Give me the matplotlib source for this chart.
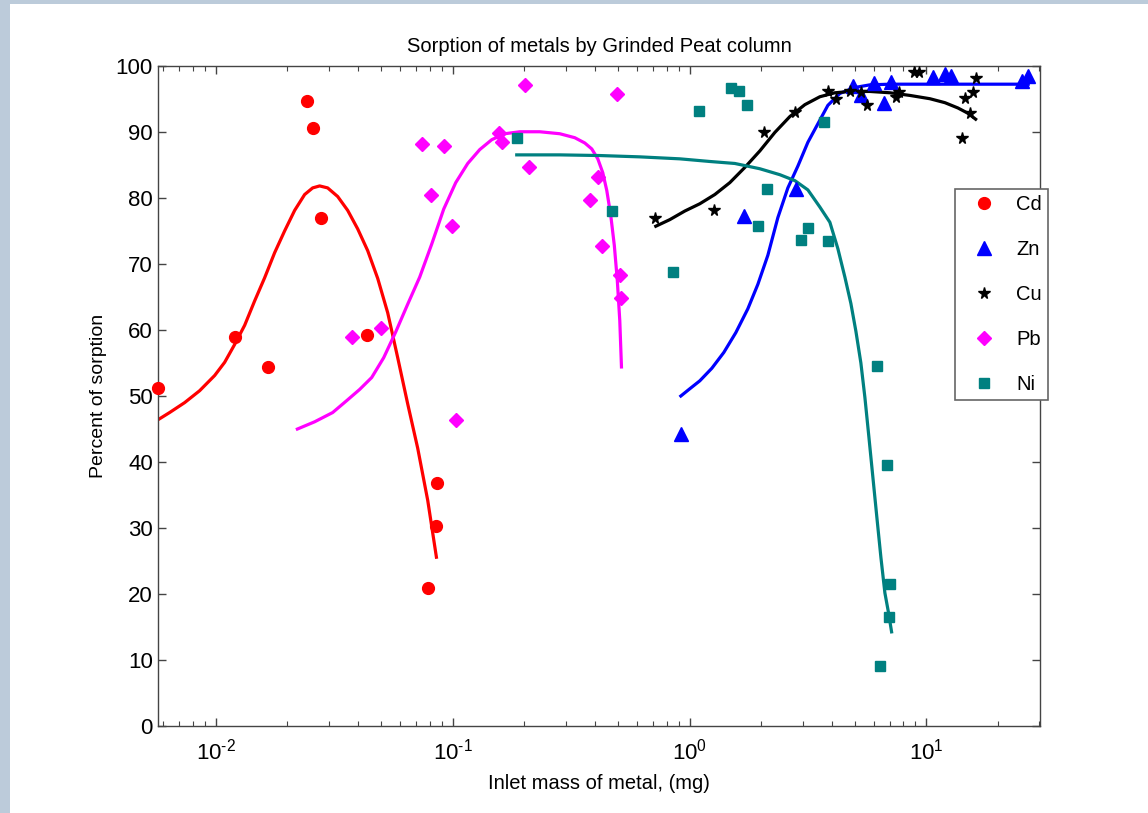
import matplotlib
matplotlib.use('Agg')
import matplotlib.pyplot as plt
import matplotlib.ticker as mticker
import numpy as np

plt.rcParams['font.family'] = ['Liberation Sans', 'DejaVu Sans']
plt.rcParams['mathtext.fontset'] = 'custom'
plt.rcParams['mathtext.rm'] = 'Liberation Sans'

# measured points (inlet mass mg, percent sorption)
cd_x = [0.00569, 0.01203, 0.01659, 0.02432, 0.02578, 0.02767, 0.04362, 0.0855, 0.0850, 0.0786]
cd_y = [51.2, 59.0, 54.4, 94.7, 90.6, 76.9, 59.2, 36.9, 30.3, 21.0]

zn_x = [0.919, 1.70, 2.81, 4.91, 5.29, 6.00, 6.62, 7.07, 10.69, 11.98, 12.67, 25.27, 26.93]
zn_y = [44.2, 77.3, 81.4, 97.0, 95.5, 97.4, 94.4, 97.6, 98.3, 98.8, 98.5, 97.7, 98.5]

cu_x = [0.713, 1.27, 2.065, 2.79, 3.83, 4.15, 4.76, 5.28, 5.60, 7.42, 7.66, 8.89, 9.33,
        16.2, 15.7, 14.5, 15.3, 14.2]
cu_y = [77.0, 78.1, 90.0, 93.0, 96.1, 95.0, 96.1, 96.0, 94.1, 95.2, 96.0, 99.1, 99.1,
        98.1, 96.0, 95.1, 92.9, 89.0]

pb_x = [0.0377, 0.0500, 0.0742, 0.0807, 0.0919, 0.0997, 0.1037, 0.2015, 0.4921, 0.1564,
        0.1622, 0.2100, 0.4112, 0.3792, 0.4275, 0.5076, 0.5128]
pb_y = [58.9, 60.3, 88.2, 80.4, 87.8, 75.7, 46.4, 97.1, 95.7, 89.8,
        88.4, 84.7, 83.1, 79.7, 72.7, 68.3, 64.9]

ni_x = [0.1863, 1.098, 1.495, 1.620, 1.741, 0.4697, 0.848, 2.128, 1.944, 3.161, 2.961,
        3.839, 3.69, 6.79, 7.02, 6.93, 6.37, 6.20]
ni_y = [89.1, 93.2, 96.6, 96.2, 94.1, 78.0, 68.8, 81.3, 75.8, 75.4, 73.6,
        73.5, 91.5, 39.6, 21.5, 16.5, 9.1, 54.5]

# fitted curves
cd_fit_x = [0.005689, 0.006374, 0.007376, 0.008533, 0.009874, 0.010884, 0.011995, 0.013221,
            0.014572, 0.016059, 0.017701, 0.019509, 0.021501, 0.023697, 0.025610, 0.027416,
            0.029639, 0.032666, 0.036006, 0.039683, 0.043743, 0.048217, 0.053137, 0.058563,
            0.064550, 0.071135, 0.078420, 0.085333]
cd_fit_y = [46.4, 47.5, 49.0, 50.8, 53.1, 55.1, 57.8, 60.7, 64.4, 67.9, 71.7, 75.0, 78.1,
            80.5, 81.5, 81.8, 81.5, 80.2, 78.1, 75.3, 72.0, 67.8, 62.6, 55.8, 48.8, 42.1,
            34.2, 25.6]

pb_fit_x = [0.022077, 0.026122, 0.031117, 0.035660, 0.040468, 0.045478, 0.051106, 0.057443,
            0.064550, 0.072536, 0.081527, 0.091622, 0.10297, 0.11570, 0.13004, 0.14616,
            0.16586, 0.19192, 0.23313, 0.28314, 0.32764, 0.36114, 0.38656, 0.40984,
            0.43020, 0.44729, 0.46503, 0.48128, 0.49545, 0.50757, 0.51592]
pb_fit_y = [45.0, 46.1, 47.5, 49.3, 51.0, 52.8, 55.8, 59.7, 63.9, 68.0, 73.0, 78.3, 82.3,
            85.2, 87.3, 88.8, 89.7, 90.0, 90.0, 89.7, 89.1, 88.3, 87.4, 85.9, 83.8, 81.1,
            77.3, 72.8, 67.5, 61.4, 54.4]

ni_fit_x = [0.18636, 0.28314, 0.41783, 0.61660, 0.9100, 1.2185, 1.5537, 1.9815, 2.4066,
            2.7861, 3.1608, 3.5523, 3.9147, 4.2316, 4.5300, 4.8027, 5.0422, 5.2924, 5.5026,
            5.7209, 5.9478, 6.1837, 6.4290, 6.6841, 6.9159, 7.1339]
ni_fit_y = [86.5, 86.5, 86.4, 86.2, 85.9, 85.5, 85.2, 84.4, 83.5, 82.6, 81.2, 78.6, 76.3,
            72.3, 68.0, 64.0, 59.8, 55.0, 49.8, 43.8, 37.7, 31.6, 25.6, 20.2, 17.3, 14.3]

zn_fit_x = [0.9189, 1.0029, 1.1052, 1.2424, 1.3961, 1.5689, 1.7631, 1.9433, 2.1418, 2.3605,
            2.6019, 2.8677, 3.1608, 3.4834, 3.8397, 4.3152, 4.9937, 5.7771, 7.0195, 26.94]
zn_fit_y = [50.0, 51.1, 52.3, 54.2, 56.6, 59.6, 63.2, 66.9, 71.3, 77.0, 81.5, 84.8, 88.4,
            91.2, 94.0, 95.8, 96.7, 97.1, 97.2, 97.2]

cu_fit_x = [0.7204, 0.8257, 0.9553, 1.1052, 1.2790, 1.4800, 1.7125, 1.9815, 2.2929, 2.6528,
            3.0693, 3.5523, 4.1105, 4.7567, 5.7771, 7.0195, 8.5253, 10.356, 11.985, 13.598,
            14.987, 16.156]
cu_fit_y = [75.7, 76.7, 78.0, 79.1, 80.5, 82.3, 84.6, 87.1, 89.9, 92.3, 94.1, 95.3, 95.9,
            96.1, 96.1, 95.9, 95.5, 95.0, 94.4, 93.6, 92.8, 91.9]

fig = plt.figure(figsize=(11.48, 8.13), dpi=100)
fig.patch.set_facecolor('white')
# bluish frame strips of the screenshot
fig.patches.append(plt.Rectangle((0, 0), 10 / 1148, 1, transform=fig.transFigure,
                                 facecolor='#bccbda', edgecolor='none'))
fig.patches.append(plt.Rectangle((0, 1 - 4 / 813), 1, 4 / 813, transform=fig.transFigure,
                                 facecolor='#bccbda', edgecolor='none'))

ax = fig.add_axes([0.1379, 0.1066, 0.7683, 0.8126])

lw = 2.3
ax.plot(cd_fit_x, cd_fit_y, color='#ff0000', lw=lw, zorder=2)
ax.plot(zn_fit_x, zn_fit_y, color='#0000ff', lw=lw, zorder=2)
ax.plot(cu_fit_x, cu_fit_y, color='black', lw=lw, zorder=2)
ax.plot(pb_fit_x, pb_fit_y, color='#ff00ff', lw=lw, zorder=2)
ax.plot(ni_fit_x, ni_fit_y, color='#008080', lw=lw, zorder=2)

ax.plot(cd_x, cd_y, 'o', color='#ff0000', ms=8.5, label='Cd', clip_on=False, zorder=3)
ax.plot(zn_x, zn_y, '^', color='#0000ff', ms=9.5, label='Zn', clip_on=False, zorder=3)
ax.plot(cu_x, cu_y, '*', color='black', ms=8.5, label='Cu', clip_on=False, zorder=3)
ax.plot(pb_x, pb_y, 'D', color='#ff00ff', ms=7, label='Pb', clip_on=False, zorder=3)
ax.plot(ni_x, ni_y, 's', color='#008080', ms=7.5, label='Ni', clip_on=False, zorder=3)

ax.set_xscale('log')
ax.set_xlim(0.00571, 30.3)
ax.set_ylim(0, 100)
ax.set_yticks(np.arange(0, 101, 10))
ax.xaxis.set_major_formatter(mticker.FuncFormatter(
    lambda v, p: r'$\mathdefault{10^{\text{-}%d}}$' % round(-np.log10(v)) if v < 1
    else r'$\mathdefault{10^{%d}}$' % round(np.log10(v))))

for s in ax.spines.values():
    s.set_color('#444444')
    s.set_linewidth(1.0)
ax.tick_params(which='both', direction='in', top=True, right=True, color='#444444',
               labelsize=16)
ax.tick_params(which='major', length=6, width=1.0)
ax.tick_params(which='minor', length=3.5, width=0.8)
ax.tick_params(axis='y', pad=4)
ax.tick_params(axis='x', pad=9)

ax.set_title('Sorption of metals by Grinded Peat column', fontsize=14.5, pad=10)
ax.set_xlabel('Inlet mass of metal, (mg)', fontsize=14.5, labelpad=7)
ax.set_ylabel('Percent of sorption', fontsize=14, labelpad=6)

leg = ax.legend(loc='upper left', bbox_to_anchor=(0.903, 0.814), fontsize=14.5,
                frameon=True, fancybox=False, framealpha=1, edgecolor='#666666',
                borderaxespad=0, borderpad=0.3, labelspacing=1.3, handletextpad=0.45,
                handlelength=2.3, numpoints=1)
leg.get_frame().set_linewidth(1.2)
leg.set_zorder(5)

fig.savefig('out.png', dpi=100)
